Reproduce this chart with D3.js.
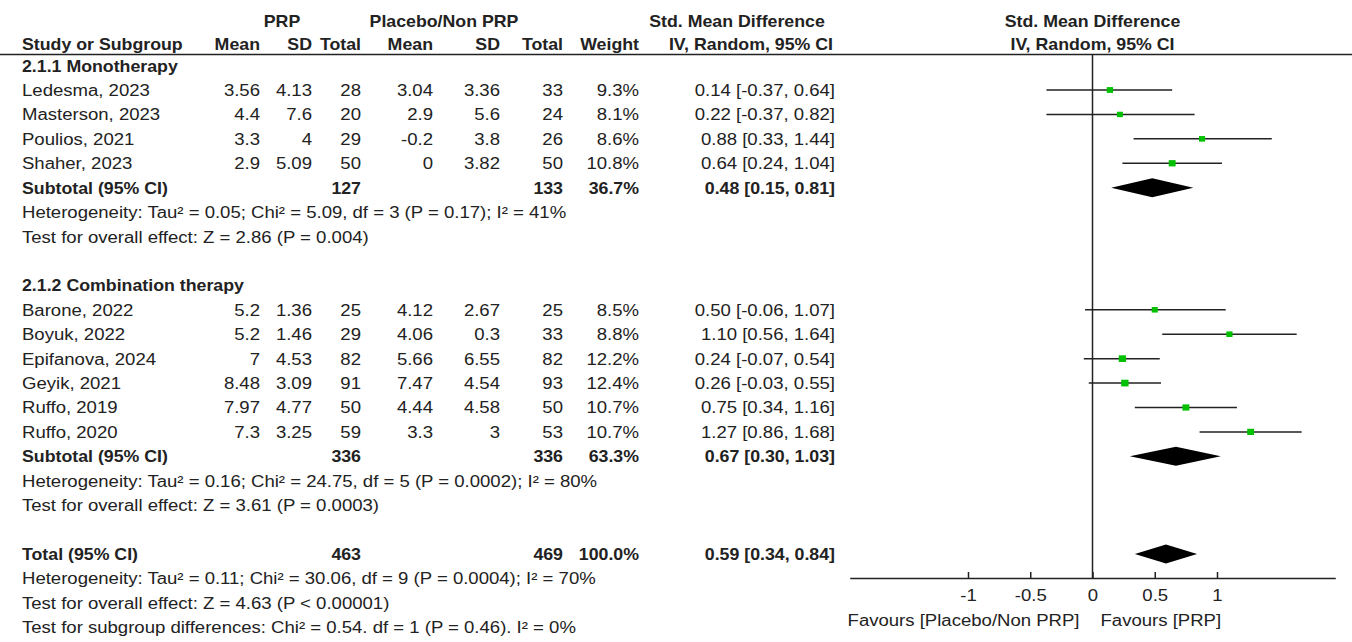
<!DOCTYPE html>
<html><head><meta charset="utf-8">
<script src="https://cdn.jsdelivr.net/npm/d3@7"></script>
<style>
body{margin:0;background:#fff}
text{font-family:"Liberation Sans",Arial,sans-serif;font-size:16px;fill:#222}
</style>
</head><body>
<svg id="chart" width="1352" height="642"></svg>
<script>
// ---------- data ----------
const groups = ["2.1.1 Monotherapy", "2.1.2 Combination therapy"];
const studyNames = ["Ledesma, 2023","Masterson, 2023","Poulios, 2021","Shaher, 2023",
  "Barone, 2022","Boyuk, 2022","Epifanova, 2024","Geyik, 2021","Ruffo, 2019","Ruffo, 2020"];
const studyGroup = [0,0,0,0,1,1,1,1,1,1];
const prpMean = ["3.56","4.4","3.3","2.9","5.2","5.2","7","8.48","7.97","7.3"];
const prpSD = ["4.13","7.6","4","5.09","1.36","1.46","4.53","3.09","4.77","3.25"];
const prpTotal = [28,20,29,50,25,29,82,91,50,59];
const ctlMean = ["3.04","2.9","-0.2","0","4.12","4.06","5.66","7.47","4.44","3.3"];
const ctlSD = ["3.36","5.6","3.8","3.82","2.67","0.3","6.55","4.54","4.58","3"];
const ctlTotal = [33,24,26,50,25,33,82,93,50,53];
const weight = [9.3,8.1,8.6,10.8,8.5,8.8,12.2,12.4,10.7,10.7];
const smd = [0.14,0.22,0.88,0.64,0.50,1.10,0.24,0.26,0.75,1.27];
const ciLow = [-0.37,-0.37,0.33,0.24,-0.06,0.56,-0.07,-0.03,0.34,0.86];
const ciHigh = [0.64,0.82,1.44,1.04,1.07,1.64,0.54,0.55,1.16,1.68];

const subPrpTotal = [127,336];
const subCtlTotal = [133,336];
const subWeight = ["36.7%","63.3%"];
const subEst = [0.48,0.67];
const subLow = [0.15,0.30];
const subHigh = [0.81,1.03];
const subHet = ["Heterogeneity: Tau\u00b2 = 0.05; Chi\u00b2 = 5.09, df = 3 (P = 0.17); I\u00b2 = 41%",
                "Heterogeneity: Tau\u00b2 = 0.16; Chi\u00b2 = 24.75, df = 5 (P = 0.0002); I\u00b2 = 80%"];
const subTest = ["Test for overall effect: Z = 2.86 (P = 0.004)",
                 "Test for overall effect: Z = 3.61 (P = 0.0003)"];

const totalPrp = 463, totalCtl = 469, totalWeight = "100.0%";
const totalEst = 0.59, totalLow = 0.34, totalHigh = 0.84;
const totalLines = ["Heterogeneity: Tau\u00b2 = 0.11; Chi\u00b2 = 30.06, df = 9 (P = 0.0004); I\u00b2 = 70%",
  "Test for overall effect: Z = 4.63 (P < 0.00001)",
  "Test for subgroup differences: Chi\u00b2 = 0.54. df = 1 (P = 0.46). I\u00b2 = 0%"];

const tickValues = [-1,-0.5,0,0.5,1];
const tickLabels = ["-1","-0.5","0","0.5","1"];
const favLeft = "Favours [Placebo/Non PRP]";
const favRight = "Favours [PRP]";

// ---------- layout ----------
const svg = d3.select("#chart");
const x = d3.scaleLinear().domain([-1,1]).range([968,1217]);
const rowY = d3.scaleLinear().domain([0,19]).range([90,554]);
const col = {name:22, pm:260, psd:312, pn:361, cm:433, csd:500, cn:563, w:639, ci:835};
const SX = 1.16, SXB = 1.11, BASE = 6;
const fmt2 = v => v.toFixed(2);
const ciText = (e,l,h) => `${fmt2(e)} [${fmt2(l)}, ${fmt2(h)}]`;

function txt(xp, yp, s, anchor="start", bold=false){
  svg.append("text")
    .attr("transform", `translate(${xp},${yp}) scale(${bold?SXB:SX},1)`)
    .attr("text-anchor", anchor)
    .attr("font-weight", bold ? "bold" : "normal")
    .text(s);
}

// headers
const h1 = 27, h2 = 50;
txt(282, h1, "PRP", "middle", true);
txt(444, h1, "Placebo/Non PRP", "middle", true);
txt(737, h1, "Std. Mean Difference", "middle", true);
txt(x(0), h1, "Std. Mean Difference", "middle", true);
txt(col.name, h2, "Study or Subgroup", "start", true);
[["pm","Mean"],["psd","SD"],["pn","Total"],["cm","Mean"],["csd","SD"],["cn","Total"],["w","Weight"],["ci","IV, Random, 95% CI"]]
  .forEach(([k,s]) => txt(col[k] - (k==="ci"?2:0), h2, s, "end", true));
txt(x(0), h2, "IV, Random, 95% CI", "middle", true);
svg.append("line").attr("x1",0).attr("x2",1352).attr("y1",54.5).attr("y2",54.5)
  .attr("stroke","#222").attr("stroke-width",1.5);

// zero line
svg.append("line").attr("x1",x(0)).attr("x2",x(0)).attr("y1",54.5).attr("y2",578)
  .attr("stroke","#222").attr("stroke-width",1.5);

function diamond(yc, e, l, h){
  const hh = 9.5;
  svg.append("path")
    .attr("d", `M${x(l)},${yc} L${x(e)},${yc-hh} L${x(h)},${yc} L${x(e)},${yc+hh} Z`)
    .attr("fill","#000");
}

// groups
let r = -1;
groups.forEach((gname, gi) => {
  txt(col.name, rowY(r) + BASE, gname, "start", true);
  r++;
  studyNames.forEach((nm, i) => {
    if (studyGroup[i] !== gi) return;
    const yc = rowY(r), yb = yc + BASE;
    txt(col.name, yb, nm);
    txt(col.pm, yb, prpMean[i], "end");
    txt(col.psd, yb, prpSD[i], "end");
    txt(col.pn, yb, prpTotal[i], "end");
    txt(col.cm, yb, ctlMean[i], "end");
    txt(col.csd, yb, ctlSD[i], "end");
    txt(col.cn, yb, ctlTotal[i], "end");
    txt(col.w, yb, weight[i].toFixed(1) + "%", "end");
    txt(col.ci, yb, ciText(smd[i], ciLow[i], ciHigh[i]), "end");
    svg.append("line").attr("x1",x(ciLow[i])).attr("x2",x(ciHigh[i]))
      .attr("y1",yc).attr("y2",yc).attr("stroke","#222").attr("stroke-width",1.5);
    const side = 1.9*Math.sqrt(weight[i]);
    svg.append("rect").attr("x", x(smd[i]) - side*0.55).attr("y", yc - side/2)
      .attr("width", side*1.1).attr("height", side).attr("fill","#00c000");
    r++;
  });
  const yc = rowY(r), yb = yc + BASE;
  txt(col.name, yb, "Subtotal (95% CI)", "start", true);
  txt(col.pn, yb, subPrpTotal[gi], "end", true);
  txt(col.cn, yb, subCtlTotal[gi], "end", true);
  txt(col.w, yb, subWeight[gi], "end", true);
  txt(col.ci, yb, ciText(subEst[gi], subLow[gi], subHigh[gi]), "end", true);
  diamond(yc, subEst[gi], subLow[gi], subHigh[gi]);
  r++;
  txt(col.name, rowY(r) + BASE, subHet[gi]); r++;
  txt(col.name, rowY(r) + BASE, subTest[gi]); r++;
  r++; // blank
});

// total
{
  const yc = rowY(r), yb = yc + BASE;
  txt(col.name, yb, "Total (95% CI)", "start", true);
  txt(col.pn, yb, totalPrp, "end", true);
  txt(col.cn, yb, totalCtl, "end", true);
  txt(col.w, yb, totalWeight, "end", true);
  txt(col.ci, yb, ciText(totalEst, totalLow, totalHigh), "end", true);
  diamond(yc, totalEst, totalLow, totalHigh);
  r++;
  totalLines.forEach(s => { txt(col.name, rowY(r) + BASE, s); r++; });
}

// axis
const axisY = 578;
const xa = x.copy().domain([-1.95,1.95]).range([x(-1.95), x(1.95)]);
const ax = svg.append("g").attr("transform", `translate(0,${axisY})`)
  .call(d3.axisBottom(xa).tickValues(tickValues)
    .tickFormat((d,i) => tickLabels[i]).tickSizeInner(-6).tickSizeOuter(0).tickPadding(12));
ax.select(".domain").attr("stroke","#222").attr("stroke-width",1.5);
ax.selectAll(".tick line").attr("stroke","#222").attr("stroke-width",1.5);
ax.selectAll(".tick text").attr("font-size",16).attr("font-family",null)
  .attr("fill","#222").attr("transform",`scale(${SX},1)`);
txt(x(0) - 13, 626, favLeft, "end");
txt(x(0) + 8, 626, favRight, "start");
</script>
</body></html>
